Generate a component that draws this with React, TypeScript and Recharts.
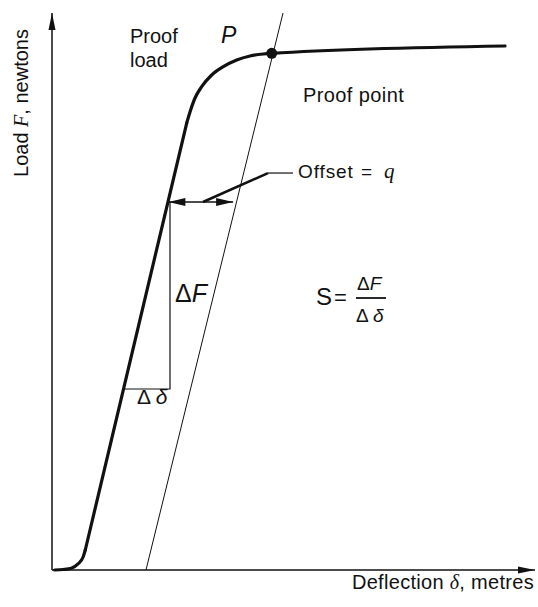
import React from "react"
import {
  ComposedChart,
  Line,
  Scatter,
  XAxis,
  YAxis,
} from "recharts"

// load-deflection curve (deflection / load in arbitrary 0..100 units)
// toe, elastic straight part, knee + plastic plateau
const toeDeflection = [0.56, 2.28, 4.0, 5.38, 6.42, 6.89]
const toeLoad = [0, 0.09, 0.31, 1.08, 2.28, 3.59]
const elasticDeflection = [6.89, 27.89]
const elasticLoad = [3.59, 80.25]
const kneeDeflection = [27.89, 28.57, 29.61, 30.99, 33.06, 35.47, 38.24, 40.99, 43.75, 45.49, 93.79]
const kneeLoad = [80.25, 82.23, 84.74, 86.77, 88.87, 90.36, 91.56, 92.28, 92.64, 92.76, 94.08]

// offset line parallel to the elastic part
const offsetDeflection = [19.46, 47.83]
const offsetLoad = [0, 100]

// stiffness triangle
const deltaDeflection = [14.8, 24.43, 24.43]
const deltaLoad = [32.5, 32.5, 66.07]

// offset dimension and leader
const offsetArrowDeflection = [24.1, 37.5]
const offsetArrowLoad = [66.07, 66.07]
const leaderDeflection = [31.26, 44.72]
const leaderLoad = [66.07, 71.27]
const leaderTailDeflection = [44.72, 49.9]
const leaderTailLoad = [71.27, 71.27]

const proofPoint = [{ x: 45.49, y: 92.76 }]

const INK = "#111"
const FONT = "'Liberation Sans', Arial, sans-serif"
const SERIF = "'Liberation Serif', serif"

const zip = (xs: number[], ys: number[]) => xs.map((x, i) => ({ x, y: ys[i] }))

type Dir = "up" | "right" | "left"

const arrowHead = (dir: Dir, len: number, half: number) => (props: any) => {
  const { cx, cy } = props
  let pts = ""
  if (dir === "up") pts = `${cx},${cy} ${cx - half},${cy + len} ${cx + half},${cy + len}`
  if (dir === "right") pts = `${cx},${cy} ${cx - len},${cy - half} ${cx - len},${cy + half}`
  if (dir === "left") pts = `${cx},${cy} ${cx + len},${cy - half} ${cx + len},${cy + half}`
  return <polygon points={pts} fill={INK} />
}

const dotShape = (props: any) => <circle cx={props.cx} cy={props.cy} r={5.5} fill={INK} />

export default function App() {
  return (
    <div style={{ position: "absolute", left: 0, top: 0, width: 538, height: 607, background: "#fff" }}>
      <ComposedChart
        width={538}
        height={607}
        margin={{ top: 13, right: 3, left: 51, bottom: 36 }}
      >
        <XAxis
          type="number"
          dataKey="x"
          domain={[0, 100]}
          height={1}
          tick={false}
          tickLine={false}
          axisLine={{ stroke: INK, strokeWidth: 1.5 }}
        />
        <YAxis
          type="number"
          dataKey="y"
          domain={[0, 100]}
          width={1}
          tick={false}
          tickLine={false}
          axisLine={{ stroke: INK, strokeWidth: 1.5 }}
        />

        <Line data={zip(offsetDeflection, offsetLoad)} dataKey="y" type="linear"
          stroke={INK} strokeWidth={1} dot={false} isAnimationActive={false} />
        <Line data={zip(deltaDeflection, deltaLoad)} dataKey="y" type="linear"
          stroke={INK} strokeWidth={1.2} dot={false} isAnimationActive={false} />
        <Line data={zip(offsetArrowDeflection, offsetArrowLoad)} dataKey="y" type="linear"
          stroke={INK} strokeWidth={1.5} dot={false} isAnimationActive={false} />
        <Line data={zip(leaderDeflection, leaderLoad)} dataKey="y" type="linear"
          stroke={INK} strokeWidth={2.5} dot={false} isAnimationActive={false} />
        <Line data={zip(leaderTailDeflection, leaderTailLoad)} dataKey="y" type="linear"
          stroke={INK} strokeWidth={1.2} dot={false} isAnimationActive={false} />

        <Line data={zip(toeDeflection, toeLoad)} dataKey="y" type="monotone"
          stroke={INK} strokeWidth={3.2} strokeLinecap="round" dot={false} isAnimationActive={false} />
        <Line data={zip(elasticDeflection, elasticLoad)} dataKey="y" type="linear"
          stroke={INK} strokeWidth={3.2} strokeLinecap="round" dot={false} isAnimationActive={false} />
        <Line data={zip(kneeDeflection, kneeLoad)} dataKey="y" type="monotone"
          stroke={INK} strokeWidth={3.2} strokeLinecap="round" dot={false} isAnimationActive={false} />

        <Scatter data={[{ x: 0, y: 100 }]} dataKey="y" shape={arrowHead("up", 17, 3.5)} isAnimationActive={false} />
        <Scatter data={[{ x: 100, y: 0 }]} dataKey="y" shape={arrowHead("right", 17, 3.5)} isAnimationActive={false} />
        <Scatter data={[{ x: offsetArrowDeflection[0], y: offsetArrowLoad[0] }]} dataKey="y"
          shape={arrowHead("left", 17, 4)} isAnimationActive={false} />
        <Scatter data={[{ x: offsetArrowDeflection[1], y: offsetArrowLoad[1] }]} dataKey="y"
          shape={arrowHead("right", 17, 4)} isAnimationActive={false} />
        <Scatter data={proofPoint} dataKey="y" shape={dotShape} isAnimationActive={false} />

        <g fontFamily={FONT} fill={INK}>
          <text transform="rotate(-90)" x={-103} y={28} textAnchor="middle" fontSize={20}>
            Load <tspan fontStyle="italic" fontFamily={SERIF}>F</tspan>, newtons
          </text>
          <text x={534} y={589} textAnchor="end" fontSize={20} letterSpacing={0.3}>
            Deflection <tspan fontStyle="italic" fontFamily={SERIF}>δ</tspan>, metres
          </text>
          <text x={130} y={43} fontSize={20}>Proof</text>
          <text x={130} y={67} fontSize={20}>load</text>
          <text x={221} y={43} fontSize={23} fontStyle="italic">P</text>
          <text x={303} y={102} fontSize={20} letterSpacing={0.4}>Proof point</text>
          <text x={298} y={178} fontSize={19} letterSpacing={0.9}>Offset</text>
          <text x={361} y={178} fontSize={19}>=</text>
          <text x={384} y={178} fontSize={21} fontStyle="italic" fontFamily={SERIF}>q</text>
          <text x={175} y={302} fontSize={25}>Δ<tspan fontStyle="italic">F</tspan></text>
          <text x={137} y={404} fontSize={21}>Δ <tspan fontStyle="italic">δ</tspan></text>
          <text x={316} y={305} fontSize={24}>S</text>
          <text x={334} y={305} fontSize={22}>=</text>
          <text x={357} y={290} fontSize={19}>Δ<tspan fontStyle="italic">F</tspan></text>
          <line x1={356} y1={298} x2={386} y2={298} stroke={INK} strokeWidth={1.8} />
          <text x={356} y={322} fontSize={19}>Δ <tspan fontStyle="italic">δ</tspan></text>
        </g>
      </ComposedChart>
    </div>
  )
}
